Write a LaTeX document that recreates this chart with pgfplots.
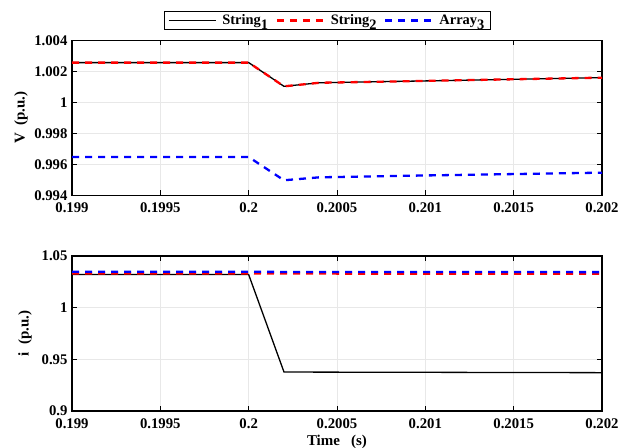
\documentclass[border=0pt]{standalone}
\usepackage{fontspec}
\setmainfont{Liberation Serif}
\usepackage{pgfplots}
\pgfplotsset{compat=1.18}
\pgfplotsset{
  myax/.style={
    scale only axis, width=530bp, height=155bp,
    xmin=0.199, xmax=0.202,
    xtick={0.199,0.1995,0.2,0.2005,0.201,0.2015,0.202},
    xticklabels={0.199,0.1995,0.2,0.2005,0.201,0.2015,0.202},
    scaled ticks=false,
    grid=major,
    major grid style={gray!18, line width=0.7bp},
    axis line style={line width=1.1bp},
    tick style={black, line width=1bp},
    major tick length=5bp,
    tick align=inside,
    /pgf/number format/assume math mode=true,
    ticklabel style={font=\fontsize{14.8}{16}\selectfont\bfseries},
    label style={font=\fontsize{15}{17}\selectfont\bfseries},
    xticklabel style={yshift=-4bp},
    yticklabel style={xshift=-1bp},
  },
  s1/.style={black, line width=1.3bp},
  s2/.style={red, line width=2.3bp, dash pattern=on 7bp off 6bp},
  s3/.style={blue, line width=2.3bp, dash pattern=on 7bp off 6bp},
}
\begin{document}
\begin{tikzpicture}
\begin{axis}[myax, at={(72bp,252.7bp)}, anchor=south west,
  ymin=0.994, ymax=1.004,
  ytick={0.994,0.996,0.998,1,1.002,1.004},
  yticklabels={0.994,0.996,0.998,1,1.002,1.004},
  ylabel={V\ \ (p.u.)},
  ylabel style={at={(axis description cs:-0.096,0.5)}, anchor=center},
  legend style={at={(0.482,1.191)}, anchor=north, legend columns=-1,
    draw=black, line width=1bp, inner xsep=4bp, inner ysep=1.5bp,
    font=\fontsize{14.5}{16}\selectfont\bfseries,
    /tikz/every odd column/.append style={column sep=4bp},
    /tikz/every even column/.append style={column sep=5bp}},
  legend image code/.code={\draw[#1] (0bp,0bp) -- (47bp,0bp);},
]
\addplot[s1] coordinates {(0.199,1.00256) (0.2,1.00256) (0.2002,1.00103) (0.2004,1.00126) (0.201,1.00138) (0.202,1.00159)};
\addlegendentry{String$_{\textbf{1}}$}
\addplot[s2] coordinates {(0.199,1.00256) (0.2,1.00256) (0.2002,1.00103) (0.2004,1.00126) (0.201,1.00138) (0.202,1.00159)};
\addlegendentry{String$_{\textbf{2}}$}
\addplot[s3] coordinates {(0.199,0.99647) (0.2,0.99647) (0.2002,0.99497) (0.2004,0.99516) (0.201,0.99528) (0.202,0.99546)};
\addlegendentry{Array$_{\textbf{3}}$}
\end{axis}
\begin{axis}[myax, at={(72bp,37bp)}, anchor=south west,
  ymin=0.9, ymax=1.05,
  ytick={0.9,0.95,1,1.05},
  yticklabels={0.9,0.95,1,1.05},
  ylabel={i\ \ (p.u.)},
  ylabel style={at={(axis description cs:-0.0887,0.5)}, anchor=center},
  xlabel={Time\ \ \ (s)},
  xlabel style={at={(axis description cs:0.5,-0.2)}, anchor=center},
]
\addplot[s1] coordinates {(0.199,1.032) (0.2,1.032) (0.2002,0.9377) (0.202,0.9371)};
\addplot[s2] coordinates {(0.199,1.0331) (0.2,1.0331) (0.2002,1.0330) (0.202,1.0328)};
\addplot[s3] coordinates {(0.199,1.0347) (0.2,1.0347) (0.2002,1.0346) (0.202,1.0344)};
\end{axis}
\pgfresetboundingbox
\useasboundingbox (0,0) rectangle (619bp,448bp);
\end{tikzpicture}
\end{document}
